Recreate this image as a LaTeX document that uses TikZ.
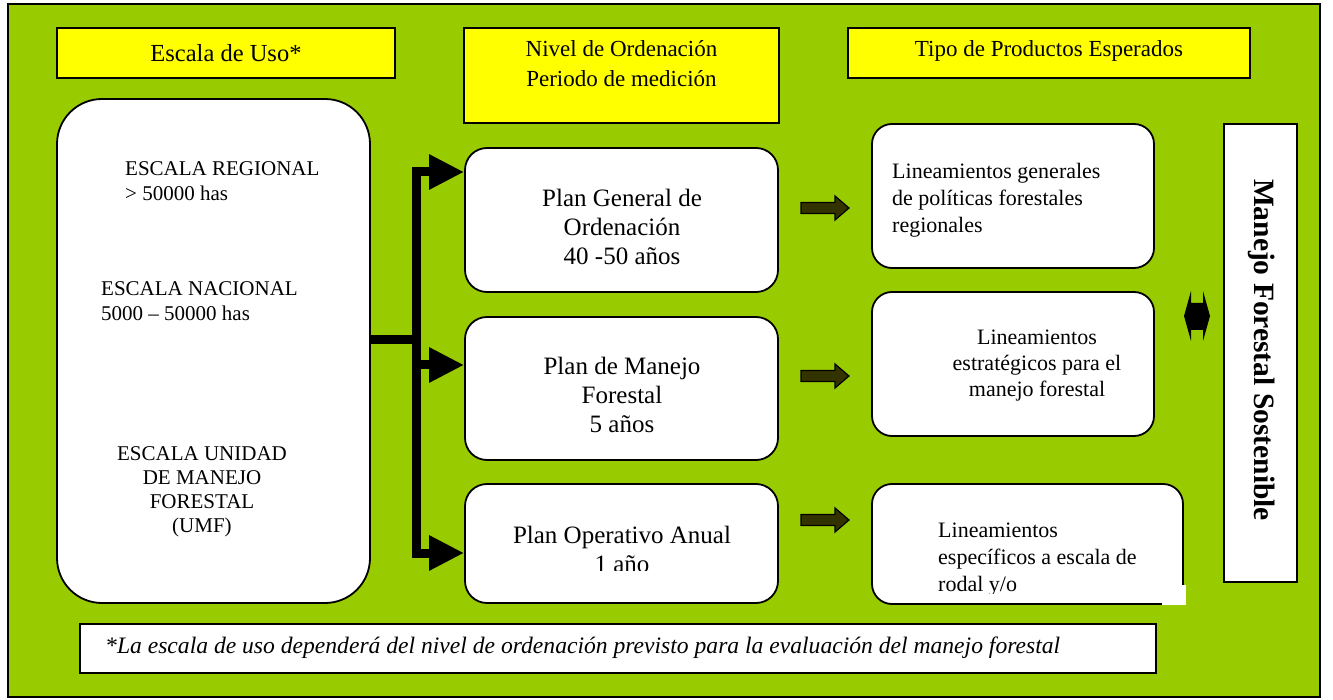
\documentclass[tikz,border=0pt]{standalone}
\usepackage{fontspec}
\setmainfont{Liberation Serif}
\usetikzlibrary{arrows.meta}
\definecolor{bggreen}{HTML}{99CC00}
\definecolor{hdryellow}{HTML}{FFFF00}
\definecolor{olivearrow}{HTML}{333300}
\newcommand{\myfs}[2]{\fontsize{#1}{#2}\selectfont}
\begin{document}
\begin{tikzpicture}[x=1pt,y=-1pt,
  frame/.style={draw=black,line width=2pt,fill=bggreen},
  hdrbox/.style={draw=black,line width=1.8pt,fill=hdryellow,inner sep=0pt},
  bigbox/.style={draw=black,line width=1.8pt,fill=white,rounded corners=45pt,inner sep=0pt},
  midbox/.style={draw=black,line width=1.8pt,fill=white,rounded corners=22pt,inner sep=0pt},
  plainbox/.style={draw=black,line width=1.8pt,fill=white,inner sep=0pt},
  txt/.style={inner sep=0pt,align=center},
  ltxt/.style={inner sep=0pt,align=left,anchor=west},
  bus/.style={line width=9pt,draw=black},
  bustip/.style={-{Triangle[length=35pt,width=33pt]}},
  oarrow/.pic={\draw[line width=1.2pt,fill=olivearrow,line join=miter]
     (-24,-5.5) -- (10,-5.5) -- (10,-12) -- (24,0) -- (10,12) -- (10,5.5) -- (-24,5.5) -- cycle;}
]
\useasboundingbox (0,0) rectangle (1333,700);
\fill[white] (0,0) rectangle (1333,700);
\draw[frame] (8,4) rectangle (1320,697);

% headers
\node[hdrbox,minimum width=338pt,minimum height=50pt] (esc) at (226,53) {};
\node[txt,font=\myfs{24.5}{28}] at (esc) {Escala de Uso*};
\node[hdrbox,minimum width=315pt,minimum height=95pt] (niv) at (621.5,75.5) {};
\node[txt,font=\myfs{23}{30}] at (621.5,64) {Nivel de Ordenación\\Periodo de medición};
\node[hdrbox,minimum width=402pt,minimum height=50pt] (tipo) at (1049,53) {};
\node[txt,font=\myfs{23}{28}] at (1049,51) {Tipo de Productos Esperados};

% left big box
\node[bigbox,minimum width=313pt,minimum height=504pt] (left) at (213.5,351) {};
\node[ltxt,font=\myfs{21}{25}] at (125,181) {ESCALA REGIONAL\\> 50000 has};
\node[ltxt,font=\myfs{21}{25}] at (101,301) {ESCALA NACIONAL\\5000 – 50000 has};
\node[txt,font=\myfs{21}{24}] at (202,492) {ESCALA UNIDAD\\DE MANEJO\\FORESTAL\\(UMF)};

% middle boxes
\node[midbox,minimum width=313pt,minimum height=144pt] (pg) at (621.5,220) {};
\node[txt,font=\myfs{25}{29}] at (622,227) {Plan General de\\Ordenación\\40 -50 años};
\node[midbox,minimum width=313pt,minimum height=143pt] (pm) at (621.5,388.5) {};
\node[txt,font=\myfs{25}{29}] at (622,395) {Plan de Manejo\\Forestal\\5 años};
\node[midbox,minimum width=313pt,minimum height=119pt] (po) at (621.5,543.5) {};
\begin{scope}
  \clip (470,500) rectangle (775,570);
  \node[txt,font=\myfs{25}{29}] at (622,549) {Plan Operativo Anual\\1 año};
\end{scope}

% connectors (bus)
\coordinate (j) at (416,339.5);
\coordinate (b1) at (416,172);
\coordinate (b2) at (416,365);
\coordinate (b3) at (416,553);
\draw[bus] (left.east |- j) -- (j);
\draw[bus,line cap=rect] (b1) -- (b3);
\draw[bus,bustip] (b1) -- (b1 -| pg.west);
\draw[bus,bustip] (b2) -- (b2 -| pm.west);
\draw[bus,bustip] (b3) -- (b3 -| po.west);

% olive block arrows
\pic at (825,208) {oarrow};
\pic at (825,376) {oarrow};
\pic at (825,520) {oarrow};

% right boxes
\node[midbox,rounded corners=20pt,minimum width=282pt,minimum height=144pt] (r1) at (1013,196) {};
\node[ltxt,font=\myfs{22}{27}] at (892,200) {Lineamientos generales\\de políticas forestales\\regionales};
\node[midbox,rounded corners=20pt,minimum width=282pt,minimum height=144pt] (r2) at (1013,364) {};
\node[txt,font=\myfs{22}{26}] at (1037,366) {Lineamientos\\estratégicos para el\\manejo forestal};
\node[midbox,rounded corners=20pt,minimum width=311pt,minimum height=120pt] (r3) at (1027.5,544) {};
\fill[white] (1162,585) rectangle (1186,605);
\begin{scope}
  \clip (900,500) rectangle (1180,593);
  \node[ltxt,font=\myfs{22}{27}] at (938,560) {Lineamientos\\específicos a escala de\\rodal y/o};
\end{scope}

% double arrow
\fill[black] (1184,316) -- (1191,291) -- (1191,303) -- (1203,303) -- (1203,291) -- (1210,316)
  -- (1203,341) -- (1203,330) -- (1191,330) -- (1191,341) -- cycle;

% right tall box
\node[plainbox,minimum width=73pt,minimum height=458pt] (mfs) at (1260.5,353) {};
\node[txt,rotate=-90,font=\myfs{29.5}{32}\bfseries] at (1262,350) {Manejo Forestal Sostenible};

% footnote
\node[plainbox,minimum width=1076pt,minimum height=49pt] (foot) at (618,648.5) {};
\node[ltxt,font=\myfs{23.6}{27}\itshape] at (105,648) {*La escala de uso dependerá del nivel de ordenación previsto para la evaluación del manejo forestal};
\end{tikzpicture}
\end{document}
